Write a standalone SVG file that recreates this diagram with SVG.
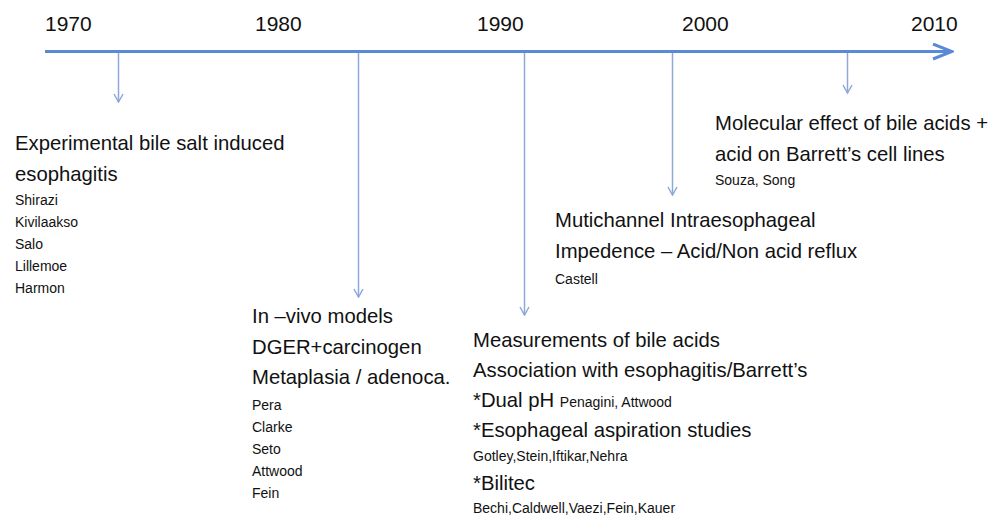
<svg xmlns="http://www.w3.org/2000/svg" width="1003" height="519" viewBox="0 0 1003 519">
  <style>
    text { font-family: "Liberation Sans", Arial, sans-serif; fill: #111; }
    .yr { font-size: 21px; }
    .big { font-size: 20.3px; }
    .sm { font-size: 14px; }
    .axis { stroke: #5a8ad6; stroke-width: 3; fill: none; }
    .conn { stroke: #8ea9d8; stroke-width: 1.5; fill: none; }
  </style>
  <defs>
    <marker id="axisHead" viewBox="0 0 22 18" refX="20" refY="9" markerWidth="22" markerHeight="18" markerUnits="userSpaceOnUse" orient="auto">
      <path d="M1,1.5 L20,9 L1,16.5" fill="none" stroke="#5a8ad6" stroke-width="3" stroke-linejoin="miter"/>
    </marker>
    <marker id="connHead" viewBox="0 0 10 12" refX="9" refY="6" markerWidth="10" markerHeight="12" markerUnits="userSpaceOnUse" orient="auto">
      <path d="M1,1.5 L9,6 L1,10.5" fill="none" stroke="#8ea9d8" stroke-width="1.5"/>
    </marker>
  </defs>

  <g id="years">
    <text class="yr" x="45" y="31">1970</text>
    <text class="yr" x="255" y="31">1980</text>
    <text class="yr" x="477" y="31">1990</text>
    <text class="yr" x="682" y="31">2000</text>
    <text class="yr" x="911" y="31">2010</text>
  </g>

  <g id="connectors">
    <line class="axis" x1="45" y1="51.5" x2="952" y2="51.5" marker-end="url(#axisHead)"/>
    <line class="conn" x1="118.5" y1="53" x2="118.5" y2="102" marker-end="url(#connHead)"/>
    <line class="conn" x1="358.5" y1="53" x2="358.5" y2="297" marker-end="url(#connHead)"/>
    <line class="conn" x1="524.5" y1="53" x2="524.5" y2="315" marker-end="url(#connHead)"/>
    <line class="conn" x1="672.5" y1="53" x2="672.5" y2="195" marker-end="url(#connHead)"/>
    <line class="conn" x1="847.5" y1="53" x2="847.5" y2="93" marker-end="url(#connHead)"/>
  </g>

  <g id="node-1972">
    <text class="big" x="15" y="150">Experimental bile salt induced</text>
    <text class="big" x="15" y="181">esophagitis</text>
    <text class="sm" x="15" y="205">Shirazi</text>
    <text class="sm" x="15" y="227">Kivilaakso</text>
    <text class="sm" x="15" y="249">Salo</text>
    <text class="sm" x="15" y="271">Lillemoe</text>
    <text class="sm" x="15" y="293">Harmon</text>
  </g>

  <g id="node-1984">
    <text class="big" x="252" y="323">In –vivo models</text>
    <text class="big" x="252" y="354">DGER+carcinogen</text>
    <text class="big" x="252" y="384">Metaplasia / adenoca.</text>
    <text class="sm" x="252" y="410">Pera</text>
    <text class="sm" x="252" y="432">Clarke</text>
    <text class="sm" x="252" y="454">Seto</text>
    <text class="sm" x="252" y="476">Attwood</text>
    <text class="sm" x="252" y="498">Fein</text>
  </g>

  <g id="node-1991">
    <text class="big" x="473" y="347">Measurements of bile acids</text>
    <text class="big" x="473" y="377">Association with esophagitis/Barrett’s</text>
    <text class="big" x="473" y="407">*Dual pH <tspan class="sm">Penagini, Attwood</tspan></text>
    <text class="big" x="473" y="437">*Esophageal aspiration studies</text>
    <text class="sm" x="473" y="461">Gotley,Stein,Iftikar,Nehra</text>
    <text class="big" x="473" y="490">*Bilitec</text>
    <text class="sm" x="473" y="513">Bechi,Caldwell,Vaezi,Fein,Kauer</text>
  </g>

  <g id="node-1998">
    <text class="big" x="555" y="227">Mutichannel Intraesophageal</text>
    <text class="big" x="555" y="258">Impedence – Acid/Non acid reflux</text>
    <text class="sm" x="555" y="284">Castell</text>
  </g>

  <g id="node-2006">
    <text class="big" x="715" y="130">Molecular effect of bile acids +</text>
    <text class="big" x="715" y="161">acid on Barrett’s cell lines</text>
    <text class="sm" x="715" y="185">Souza, Song</text>
  </g>
</svg>
